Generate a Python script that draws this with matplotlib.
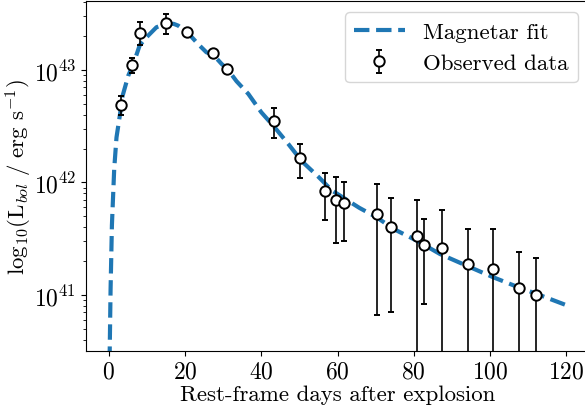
import numpy as np
import matplotlib
matplotlib.use("Agg")
import matplotlib.pyplot as plt

plt.rcParams['font.family'] = 'serif'
plt.rcParams['font.serif'] = ['cmr10', 'DejaVu Serif']
plt.rcParams['mathtext.fontset'] = 'cm'
plt.rcParams['axes.formatter.use_mathtext'] = True

# observed bolometric light curve
days = [3.3, 6.2, 8.3, 14.9, 20.6, 27.4, 31.1, 43.4, 50.1, 56.8, 59.6,
        61.6, 70.4, 74.1, 80.8, 82.6, 87.5, 94.2, 100.8, 107.5, 112.2]
lum = [4.89e42, 1.107e43, 2.15e43, 2.62e43, 2.16e43, 1.407e43, 1.027e43,
       3.54e42, 1.64e42, 8.36e41, 7.03e41, 6.61e41, 5.21e41, 4.02e41,
       3.32e41, 2.78e41, 2.63e41, 1.875e41, 1.69e41, 1.153e41, 9.94e40]
lum_err = [0.95e42, 1.75e42, 5.0e42, 5.2e42, 1.5e42, 0.6e42, 0.4e42,
           1.05e42, 5.5e41, 3.7e41, 4.16e41, 3.58e41, 4.54e41, 3.31e41,
           3.63e41, 1.95e41, 3.03e41, 1.96e41, 2.17e41, 1.26e41, 1.14e41]

# magnetar model curve
fit_days = [0.0, 0.2, 0.45, 0.8, 1.4, 2.0, 2.9, 3.6, 5.1, 6.4, 8.1, 10.3,
            12.5, 15.0, 17.0, 18.2, 20.6, 23.4, 25.6, 27.4, 29.6, 31.1, 33.5,
            36.6, 40.0, 43.5, 47.1, 50.6, 55.0, 58.5, 65.7, 70.3, 74.7, 80.8,
            86.9, 93.9, 100.9, 107.5, 112.3, 120.0]
fit_log = [39.0, 40.45, 41.05, 41.62, 42.12, 42.40, 42.60, 42.77, 42.95,
           43.05, 43.22, 43.305, 43.38, 43.41, 43.41, 43.394, 43.335, 43.231,
           43.157, 43.135, 43.053, 43.009, 42.90, 42.787, 42.624, 42.49,
           42.342, 42.19, 42.05, 41.93, 41.775, 41.69, 41.587, 41.483, 41.364,
           41.26, 41.157, 41.068, 41.009, 40.91]
fit_lum = 10 ** np.array(fit_log)

fig = plt.figure(figsize=(5.85, 4.06), dpi=100)
ax = fig.add_axes([86/585, 1 - 352/406, (589 - 86)/585, 350/406])

ax.plot(fit_days, fit_lum, '--', color='#1f77b4', lw=3, label='Magnetar fit')
ax.errorbar(days, lum, yerr=lum_err, fmt='o', color='black', mfc='white',
            mec='black', ms=7.5, mew=1.4, elinewidth=1.2, capsize=2.5,
            capthick=1.2, label='Observed data', zorder=3)

ax.set_yscale('log')
ax.set_xlim(-6, 126)
ax.set_ylim(10**40.502, 10**43.613)
ax.set_xticks([0, 20, 40, 60, 80, 100, 120])
ax.tick_params(labelsize=17)
ax.set_xlabel('Rest-frame days after explosion', fontsize=16.5, labelpad=1)
ax.set_ylabel(r'$\mathrm{log}_{10}(\mathrm{L}_{bol}\ /\ \mathrm{erg\ s^{-1}})$',
              fontsize=16.5, labelpad=0)
ax.legend(loc='upper right', fontsize=16.5, handlelength=2.2)

fig.savefig('out.png', dpi=100)
